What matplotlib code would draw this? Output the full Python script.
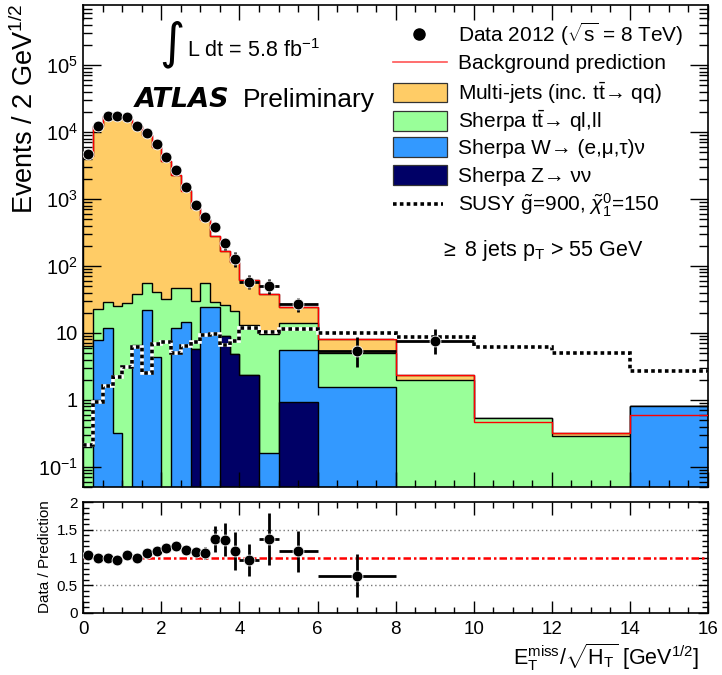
import numpy as np
import matplotlib
matplotlib.use("Agg")
import matplotlib.pyplot as plt
from matplotlib.lines import Line2D
from matplotlib.patches import Rectangle
from matplotlib.ticker import FixedLocator, MultipleLocator, NullFormatter

plt.rcParams['font.family'] = ['Liberation Sans', 'DejaVu Sans']
plt.rcParams['mathtext.fontset'] = 'custom'
plt.rcParams['mathtext.rm'] = 'Liberation Sans'
plt.rcParams['mathtext.it'] = 'Liberation Sans:italic'
plt.rcParams['mathtext.bf'] = 'Liberation Sans:bold'
plt.rcParams['mathtext.sf'] = 'Liberation Sans'

# ---------------- data ----------------
bin_edges = [0, 0.25, 0.5, 0.75, 1.0, 1.25, 1.5, 1.75, 2.0, 2.25, 2.5, 2.75,
             3.0, 3.25, 3.5, 3.75, 4.0, 4.5, 5.0, 6.0, 8.0, 10.0, 12.0, 14.0, 16.0]

z_nunu = [0, 0, 0, 0, 0, 0, 0, 0, 0, 0, 0, 5.7, 0, 0, 9.0, 4.87, 2.36, 0, 0.94,
          0, 0, 0, 0, 0]
w_lnu = [0, 7.9, 11.8, 0.32, 0, 6.6, 22, 4.43, 0, 11.8, 14.4, 0, 24.6, 24.6, 0,
         0, 0, 0.16, 4.63, 1.57, 0, 0, 0, 0.81]
ttbar = [6.3, 14.6, 16.7, 25.1, 28, 31.4, 34, 37.1, 31.8, 34.6, 32, 23.8, 30.7,
         4.1, 17.1, 16.7, 10.9, 9.64, 8.73, 3.53, 2.0, 0.54, 0.284, 0]
multijet = [4420, 12380, 17470, 17975, 15770, 12360, 9015, 5910, 3620, 2205,
            1295, 710, 440, 255, 140, 92, 47.7, 28, 9.8, 2.9, 0.36, 0, 0.034, 0]
bkg_pred = [4430, 12400, 17500, 18000, 15800, 12400, 9070, 5950, 3650, 2250,
            1340, 738, 494, 283, 165, 114, 61, 37.8, 24.1, 8.0, 2.36, 0.47,
            0.318, 0.60]
susy = [0.21, 0.94, 1.62, 2.23, 3.14, 6.25, 2.5, 6.8, 7.4, 5.1, 6.4, 7.4, 9.3,
        9.7, 6.5, 7.7, 11.8, 10.3, 11.4, 9.9, 8.6, 6.25, 5.1, 2.74]

data_x = [0.125, 0.375, 0.625, 0.875, 1.125, 1.375, 1.625, 1.875, 2.125, 2.375,
          2.625, 2.875, 3.125, 3.375, 3.625, 3.875, 4.25, 4.75, 5.5, 7.0, 9.0]
data_xerr = [0.125] * 16 + [0.25, 0.25, 0.5, 1.0, 1.0]
data_y = [4650, 12300, 17300, 17300, 16600, 12300, 9800, 6610, 4270, 2700,
          1530, 812, 534, 377, 218, 127, 58.5, 50.4, 26.8, 5.4, 7.6]
data_err_lo = [190, 310, 370, 370, 360, 310, 280, 230, 185, 145, 110, 80, 65,
               53, 44, 32, 13, 12, 6.5, 2.33, 2.7]
data_err_hi = [190, 310, 370, 370, 360, 310, 280, 230, 185, 145, 110, 80, 65,
               56, 46, 36, 14, 13, 7, 3.4, 3.9]
ratio_err = [0.02, 0.02, 0.02, 0.02, 0.02, 0.03, 0.03, 0.04, 0.05, 0.06, 0.07,
             0.09, 0.10, 0.23, 0.30, 0.34, 0.29, 0.47, 0.37, 0.38, 1.3]

legend_labels = [
    r"Data 2012 ($\sqrt{\mathrm{s}}$ = 8 TeV)",
    "Background prediction",
    r"Multi-jets (inc. $\mathrm{t}\bar{\mathrm{t}}$" + "\u2192 qq)",
    r"Sherpa $\mathrm{t}\bar{\mathrm{t}}$" + "\u2192 ql,ll",
    "Sherpa W\u2192 (e,\u03bc,\u03c4)\u03bd",
    "Sherpa Z\u2192 \u03bd\u03bd",
    r"SUSY $\tilde{\mathrm{g}}$=900, $\tilde{\chi}_{1}^{0}$=150",
]

c_mj = "#FFCC66"
c_tt = "#99FF99"
c_w = "#3399FF"
c_z = "#000066"

# ---------------- figure ----------------
W, H = 722, 675
fig = plt.figure(figsize=(W / 100, H / 100), dpi=100)


def fx(p):
    return p / W


def fy(p):
    return 1 - p / H


def px_axes(l, t, r, b):
    return fig.add_axes([l / W, 1 - b / H, (r - l) / W, (b - t) / H])


ax = px_axes(83.3, 5, 708, 487)
axr = px_axes(83.3, 502, 708, 613)

edges = np.array(bin_edges)
cum = np.cumsum(np.vstack([z_nunu, w_lnu, ttbar, multijet]), axis=0)
floor = 1e-4
for i, (vals, col) in enumerate([(cum[3], c_mj), (cum[2], c_tt),
                                  (cum[1], c_w), (cum[0], c_z)]):
    v = np.where(vals > 0, vals, floor)
    ax.stairs(v, edges, baseline=floor, fill=True, facecolor=col,
              edgecolor='none', zorder=1 + i * 0.1)
    ax.stairs(v, edges, baseline=floor, fill=False, edgecolor='black',
              lw=1.0, zorder=1.05 + i * 0.1)

ax.stairs(bkg_pred, edges, baseline=None, fill=False, edgecolor='red', lw=1.0,
          zorder=3)
ax.stairs(susy, edges, baseline=None, fill=False, edgecolor='white', lw=2.6,
          zorder=4)
ax.stairs(susy, edges, baseline=None, fill=False, edgecolor='black', lw=2.6,
          linestyle=(0, (1, 0.9)), zorder=4.1)

ax.errorbar(data_x, data_y, xerr=data_xerr, yerr=[data_err_lo, data_err_hi],
            fmt='o', color='black', ms=7.8, mec='white', mew=0.6, elinewidth=2,
            capsize=0, zorder=5)

# ratio
dy = np.array(data_y)
pred_at_data = np.array(bkg_pred[:len(data_y)])
ratio = dy / pred_at_data
mask = ratio <= 2
axr.axhline(1.0, color='red', lw=1.8, ls=(0, (3, 1.2, 1, 1.2)), zorder=2)
for g in (0.5, 1.5):
    axr.axhline(g, color='#777777', lw=1.0, ls=(0, (1, 2)), zorder=1)
axr.errorbar(np.array(data_x)[mask], ratio[mask],
             xerr=np.array(data_xerr)[mask], yerr=np.array(ratio_err)[mask],
             fmt='o', color='black', ms=7.8, mec='white', mew=0.6, elinewidth=2,
             capsize=0, zorder=5)

# axes styling
for a in (ax, axr):
    a.set_xlim(0, 16)
    a.xaxis.set_major_locator(MultipleLocator(2))
    a.xaxis.set_minor_locator(MultipleLocator(0.5))
    a.tick_params(which='both', direction='in', top=True, right=True,
                  width=1, color='black')
    for s in a.spines.values():
        s.set_linewidth(1.2)

ax.set_yscale('log')
ax.set_ylim(0.05, 7.9e5)
ax.yaxis.set_major_locator(FixedLocator([0.1, 1, 10, 100, 1e3, 1e4, 1e5]))
ax.set_yticklabels([r'$10^{-1}$', '1', '10', r'$10^{2}$', r'$10^{3}$',
                    r'$10^{4}$', r'$10^{5}$'])
minor = [k * 10.0 ** e for e in range(-2, 6) for k in range(2, 10)]
ax.yaxis.set_minor_locator(FixedLocator(minor))
ax.yaxis.set_minor_formatter(NullFormatter())
ax.tick_params(axis='x', which='major', length=11, labelbottom=False)
ax.tick_params(axis='x', which='minor', length=5)
ax.tick_params(axis='y', which='major', length=13, labelsize=14.5, pad=4)
ax.tick_params(axis='y', which='minor', length=6.5)

axr.set_ylim(0, 2)
axr.yaxis.set_major_locator(FixedLocator([0, 0.5, 1, 1.5, 2]))
axr.set_yticklabels(['0', '0.5', '1', '1.5', '2'])
axr.yaxis.set_minor_locator(MultipleLocator(0.1))
axr.tick_params(axis='x', which='major', length=9, labelsize=13.5, pad=6)
axr.tick_params(axis='x', which='minor', length=4.5)
axr.tick_params(axis='y', which='major', length=7, labelsize=11, pad=4)
axr.tick_params(axis='y', which='minor', length=4)

# labels
fig.text(fx(25), fy(4), r"Events / 2 GeV$^{1/2}$", rotation=90, ha='center',
         va='top', fontsize=19.5)
fig.text(fx(45), fy(557), "Data / Prediction", rotation=90, ha='center',
         va='center', fontsize=11)
fig.text(fx(699), fy(665),
         r"E$_{\mathrm{T}}^{\mathrm{miss}}$/$\sqrt{\mathrm{H}_{\mathrm{T}}}$ [GeV$^{1/2}$]",
         ha='right', va='baseline', fontsize=15.5)

fig.text(fx(172), fy(44), "\u222b", ha='center', va='center', fontsize=35,
         family='DejaVu Sans')
fig.text(fx(187), fy(57), r"L dt = 5.8 fb$^{\mathrm{-1}}$", ha='left',
         va='baseline', fontsize=15.5)
fig.text(fx(135), fy(107), "ATLAS", ha='left', va='baseline', fontsize=19.5,
         fontweight='bold', fontstyle='italic', family='DejaVu Sans')
fig.text(fx(243), fy(107), "Preliminary", ha='left', va='baseline',
         fontsize=19)
fig.text(fx(440), fy(256), r"$\geq$ 8 jets p$_{\mathrm{T}}$ > 55 GeV",
         ha='left', va='baseline', fontsize=15.5)

# legend (manual layout, ROOT style)
leg_base = [41.7, 69, 100, 128.3, 154.3, 182.3, 211.7]
hx0, hx1 = 392.7, 447
for i, lab in enumerate(legend_labels):
    yc = leg_base[i] - 7.5
    if i == 0:
        fig.add_artist(Line2D([fx(419.5)], [fy(yc)], marker='o', color='black',
                              ms=8, ls='none', transform=fig.transFigure))
    elif i == 1:
        fig.add_artist(Line2D([fx(hx0), fx(hx1)], [fy(yc), fy(yc)],
                              color='#ff5555', lw=1.2,
                              transform=fig.transFigure))
    elif i in (2, 3, 4, 5):
        col = [c_mj, c_tt, c_w, c_z][i - 2]
        fig.add_artist(Rectangle((fx(hx0), fy(yc + 9.7)), (hx1 - hx0) / W,
                                 19.4 / H, facecolor=col, edgecolor='#333333',
                                 lw=0.9, transform=fig.transFigure))
    else:
        fig.add_artist(Line2D([fx(hx0), fx(443)], [fy(yc), fy(yc)],
                              color='black', lw=2.6, ls=(0, (1, 0.9)),
                              transform=fig.transFigure))
    fig.text(fx(458.3), fy(leg_base[i]), lab, ha='left', va='baseline',
             fontsize=15)

fig.savefig("out.png", dpi=100)
